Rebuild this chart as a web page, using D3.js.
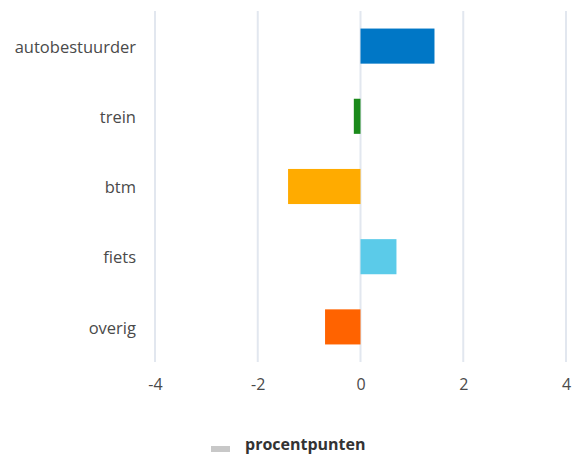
<!DOCTYPE html>
<html>
<head>
<meta charset="utf-8">
<script src="https://cdn.jsdelivr.net/npm/d3@7"></script>
<style>
html,body{margin:0;padding:0;background:#fff;}
svg{display:block;}
text{font-family:"Open Sans",sans-serif;}
</style>
</head>
<body>
<svg id="chart" width="576" height="454"></svg>
<script>
const categories = ["autobestuurder", "trein", "btm", "fiets", "overig"];
const values = [1.44, -0.13, -1.41, 0.70, -0.69];
const colors = ["#0077c6", "#1b8a1b", "#ffab00", "#5bcbe9", "#ff6300"];
const xTicks = [-4, -2, 0, 2, 4];
const legendLabel = "procentpunten";

const svg = d3.select("#chart");
const x = d3.scaleLinear().domain([-4, 4]).range([155, 566]);
const y = d3.scaleBand().domain(categories).range([11, 362]).paddingInner(0.5).paddingOuter(0.25);

// gridlines
svg.append("g").selectAll("line").data(xTicks).join("line")
  .attr("x1", d => x(d)).attr("x2", d => x(d))
  .attr("y1", 11).attr("y2", 362)
  .attr("stroke", "#e2e7ef").attr("stroke-width", 2);

// x axis labels
const xAxis = d3.axisBottom(x).tickValues(xTicks).tickFormat(d => String(d)).tickSize(0).tickPadding(0);
const gx = svg.append("g").attr("transform", "translate(0,379)").call(xAxis);
gx.select(".domain").remove();
gx.selectAll("text").attr("font-size", 16).attr("fill", "#4a4a4a")
  .attr("font-family", "Open Sans, sans-serif").attr("dy", "0.71em");

// y axis labels
const yAxis = d3.axisLeft(y).tickSize(0).tickPadding(0);
const gy = svg.append("g").attr("transform", "translate(136,1.5)").call(yAxis);
gy.select(".domain").remove();
gy.selectAll("text").attr("font-size", 16.5).attr("fill", "#4a4a4a")
  .attr("font-family", "Open Sans, sans-serif");

// bars
svg.append("g").selectAll("rect").data(categories).join("rect")
  .attr("x", (d, i) => x(Math.min(0, values[i])))
  .attr("width", (d, i) => Math.abs(x(values[i]) - x(0)))
  .attr("y", d => y(d))
  .attr("height", y.bandwidth())
  .attr("fill", (d, i) => colors[i]);

// legend
const lg = svg.append("g").attr("transform", "translate(211,446)");
lg.append("rect").attr("x", 0).attr("y", 0).attr("width", 19).attr("height", 6).attr("fill", "#c8c8c8");
lg.append("text").attr("x", 34).attr("y", 4).text(legendLabel)
  .attr("font-size", 16).attr("font-weight", "bold").attr("fill", "#333");
</script>
</body>
</html>
